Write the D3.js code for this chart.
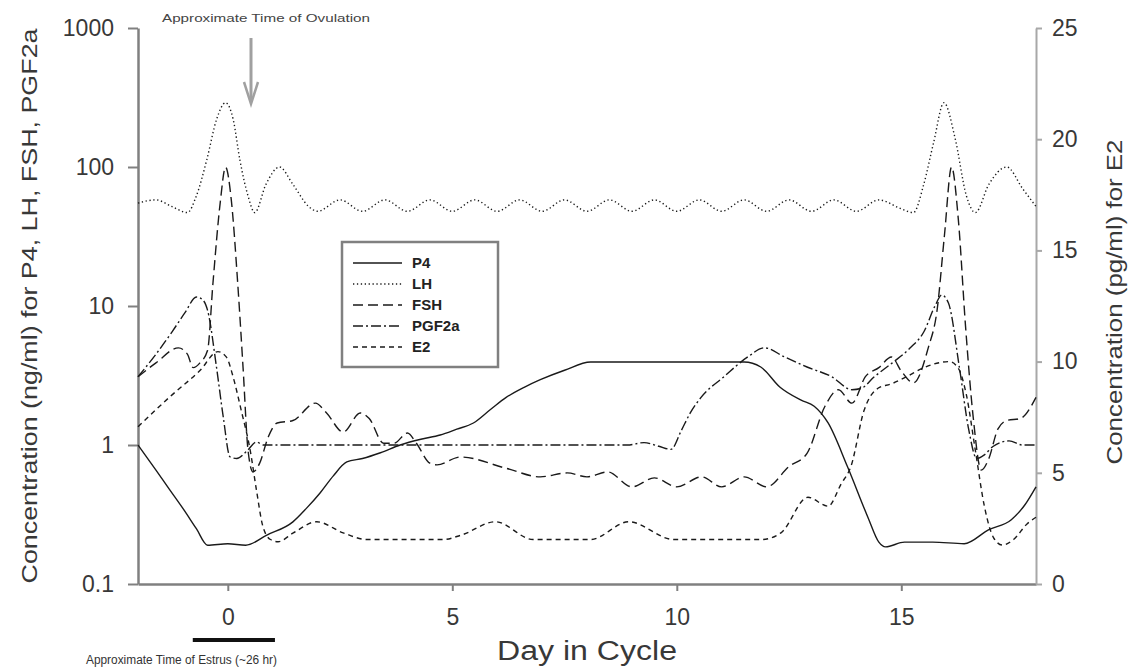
<!DOCTYPE html>
<html>
<head>
<meta charset="utf-8">
<script src="https://cdn.jsdelivr.net/npm/d3@7"></script>
<style>
  body { margin: 0; background: #fff; }
  svg { display: block; font-family: "Liberation Sans", Arial, sans-serif; }
</style>
</head>
<body>
<script>
// data: [day, value]
var p4 = [[-2,1.0],[-1.6,0.66],[-1.3,0.48],[-1.0,0.35],[-0.7,0.25],[-0.45,0.19],[0,0.195],[0.4,0.19],
  [0.87,0.225],[1.45,0.28],[1.75,0.35],[2.05,0.45],[2.35,0.6],[2.65,0.755],[3.0,0.8],[3.4,0.88],
  [3.84,1.0],[4.3,1.1],[4.73,1.18],[5.1,1.3],[5.47,1.44],[5.85,1.8],[6.2,2.2],[6.6,2.6],[6.96,2.95],
  [7.5,3.45],[8.08,3.95],[9,3.95],[10,3.95],[11,3.95],[11.5,3.95],[11.87,3.64],[12.3,2.6],[12.77,2.1],
  [13.06,1.9],[13.37,1.44],[13.8,0.7],[14.26,0.3],[14.5,0.2],[14.65,0.185],[15.07,0.2],[15.7,0.2],
  [16.4,0.195],[16.94,0.245],[17.45,0.29],[17.75,0.37],[18,0.5]];

var lh = [[-2,55],[-1.6,58],[-1.25,52],[-0.9,47],[-0.7,62],[-0.47,112],[-0.25,220],[-0.05,290],
  [0.12,220],[0.27,112],[0.45,62],[0.6,47],[0.85,75],[1.15,100],[1.45,75],[1.8,52],[2.0,48],
  [2.5,58],[3,48],[3.5,58],[4,48],[4.5,58],[5,48],[5.5,58],[6,48],[6.5,58],[7,48],[7.5,58],[8,48],
  [8.5,58],[9,48],[9.5,58],[10,48],[10.5,58],[11,48],[11.5,58],[12,48],[12.5,58],[13,48],[13.5,58],
  [14,48],[14.5,58],[15.0,50],[15.27,47],[15.5,75],[15.72,150],[15.95,290],[16.2,160],[16.45,62],
  [16.65,47],[16.95,75],[17.35,100],[17.7,70],[18,52]];

var fsh = [[-2,3.1],[-1.6,3.9],[-1.1,5.0],[-0.9,4.5],[-0.77,3.6],[-0.62,3.9],[-0.45,4.8],[-0.33,14.7],
  [-0.17,55],[-0.05,100],[0.08,57],[0.22,14.7],[0.34,3.6],[0.45,0.92],[0.56,0.64],[0.71,0.74],
  [0.9,1.14],[1.1,1.44],[1.45,1.5],[1.95,2.0],[2.2,1.7],[2.57,1.24],[2.95,1.7],[3.15,1.55],
  [3.47,1.03],[3.7,1.03],[4.0,1.22],[4.2,1.03],[4.5,0.74],[4.66,0.72],[5.18,0.82],[6.2,0.68],
  [6.96,0.59],[7.56,0.63],[8.0,0.59],[8.46,0.64],[9.0,0.5],[9.5,0.58],[10.0,0.5],[10.55,0.59],
  [11.0,0.5],[11.5,0.59],[12.0,0.5],[12.5,0.7],[12.9,0.87],[13.3,1.9],[13.6,2.5],[13.9,2.0],
  [14.2,3.1],[14.5,3.6],[14.78,4.3],[15.0,3.4],[15.27,2.8],[15.6,5.0],[15.8,9.5],[15.96,32],
  [16.12,100],[16.27,42],[16.43,7.2],[16.6,1.6],[16.78,0.66],[16.95,0.8],[17.15,1.3],[17.35,1.5],
  [17.65,1.55],[18,2.2]];

var pgf2a = [[-2,3.1],[-1.6,4.5],[-1.23,6.6],[-0.95,9.0],[-0.7,11.6],[-0.55,11.0],[-0.45,9.3],
  [-0.25,3.6],[-0.1,1.58],[0.05,0.82],[0.2,0.8],[0.42,0.9],[0.64,1.05],[0.8,1.0],[1.5,1.0],[3,1.0],
  [5,1.0],[7,1.0],[8.9,1.0],[9.27,1.04],[9.6,0.98],[9.87,0.93],[10.1,1.27],[10.3,1.7],[10.54,2.2],
  [11.05,3.1],[11.58,4.3],[11.95,5.0],[12.4,4.3],[12.9,3.64],[13.45,3.1],[13.9,2.5],[14.1,2.55],
  [14.4,3.1],[14.8,3.9],[15.2,5.0],[15.5,6.5],[15.75,10],[15.9,12],[16.05,10.5],[16.3,3.5],
  [16.5,1.3],[16.68,0.8],[16.85,0.85],[17.05,0.98],[17.4,1.07],[17.7,1.0],[18,1.0]];

var e2 = [[-2,7.07],[-1.3,8.4],[-0.62,9.6],[-0.22,10.45],[-0.03,10.2],[0.12,9.3],[0.3,7.8],[0.5,6.0],
  [0.64,4.2],[0.78,2.6],[0.95,2.0],[1.12,1.9],[1.46,2.3],[1.98,2.8],[2.57,2.3],[3.1,2.0],[4.8,2.0],
  [5.2,2.2],[5.96,2.8],[6.8,2.0],[8.08,2.0],[8.93,2.8],[9.93,2.0],[11.88,2.0],[12.32,2.3],
  [12.92,3.9],[13.37,3.5],[13.66,4.5],[13.88,5.3],[14.17,7.8],[14.48,8.8],[14.78,9.0],[15.1,9.3],
  [15.47,9.7],[16.07,10.0],[16.27,9.7],[16.45,8.5],[16.65,6.0],[16.85,3.5],[17.05,2.1],
  [17.25,1.75],[17.5,2.0],[17.8,2.7],[18,3.0]];

var seriesNames = ["P4", "LH", "FSH", "PGF2a", "E2"];
var dayTicks = [0, 5, 10, 15];
var leftTicks = [0.1, 1, 10, 100, 1000];
var leftTickLabels = ["0.1", "1", "10", "100", "1000"];
var rightTicks = [0, 5, 10, 15, 20, 25];

var width = 1133, height = 668;
var svg = d3.select("body").append("svg").attr("width", width).attr("height", height);

// scales
var x = d3.scaleLinear().domain([-2, 18]).range([138, 1036]);
var yL = d3.scaleLog().domain([0.1, 1000]).range([584, 28]);
var yR = d3.scaleLinear().domain([0, 25]).range([584, 28]);

// axes
var gx = svg.append("g").attr("transform", "translate(0,584)")
  .call(d3.axisBottom(x).tickValues(dayTicks).tickSize(7).tickSizeOuter(0).tickPadding(18));
var gl = svg.append("g").attr("transform", "translate(138,0)")
  .call(d3.axisLeft(yL).tickValues(leftTicks).tickSize(10).tickSizeOuter(0).tickPadding(14)
    .tickFormat(function(d, i){ return leftTickLabels[i]; }));
var gr = svg.append("g").attr("transform", "translate(1036,0)")
  .call(d3.axisRight(yR).tickValues(rightTicks).tickSize(6).tickSizeOuter(0).tickPadding(10));

[gx, gl, gr].forEach(function(g){
  g.select(".domain").attr("stroke", "#808080").attr("stroke-width", 2.5);
  g.selectAll(".tick line").attr("stroke", "#808080").attr("stroke-width", 2);
  g.selectAll(".tick text").attr("fill", "#383838").style("font-size", "23px");
});
gr.select(".domain").attr("stroke", "#a8a8a8").attr("stroke-width", 2);
gr.selectAll(".tick line").attr("stroke", "#a8a8a8");

// lines
var styles = {
  P4:    { dash: null,        axis: "L" },
  LH:    { dash: "1.3,2.6",   axis: "L" },
  FSH:   { dash: "10,5",      axis: "L" },
  PGF2a: { dash: "10,3,2,3",  axis: "L" },
  E2:    { dash: "5,4",       axis: "R" }
};
var allData = { P4: p4, LH: lh, FSH: fsh, PGF2a: pgf2a, E2: e2 };

seriesNames.forEach(function(name){
  var s = styles[name];
  var yy = s.axis == "L" ? yL : yR;
  var line = d3.line()
    .x(function(d){ return x(d[0]); })
    .y(function(d){ return yy(d[1]); })
    .curve(d3.curveMonotoneX);
  svg.append("path")
    .datum(allData[name])
    .attr("d", line)
    .attr("fill", "none")
    .attr("stroke", "#1a1a1a")
    .attr("stroke-width", 1.4)
    .attr("stroke-dasharray", s.dash);
});

// legend
var legend = svg.append("g");
legend.append("rect").attr("x", 342).attr("y", 242).attr("width", 156).attr("height", 125)
  .attr("fill", "#fff").attr("stroke", "#808080").attr("stroke-width", 2.5);
seriesNames.forEach(function(name, i){
  var yy = 263 + i * 21;
  legend.append("line").attr("x1", 353).attr("x2", 402).attr("y1", yy).attr("y2", yy)
    .attr("stroke", "#1a1a1a").attr("stroke-width", 1.4)
    .attr("stroke-dasharray", styles[name].dash);
  legend.append("text").attr("x", 412).attr("y", yy + 5).text(name)
    .style("font-size", "15px").style("font-weight", "bold").attr("fill", "#222");
});

// axis titles
svg.append("text").attr("transform", "translate(37,306) rotate(-90)")
  .attr("text-anchor", "middle").attr("fill", "#383838").style("font-size", "22px")
  .attr("textLength", 555).attr("lengthAdjust", "spacingAndGlyphs")
  .text("Concentration (ng/ml) for P4, LH, FSH, PGF2a");
svg.append("text").attr("transform", "translate(1122,302) rotate(-90)")
  .attr("text-anchor", "middle").attr("fill", "#383838").style("font-size", "22px")
  .attr("textLength", 325).attr("lengthAdjust", "spacingAndGlyphs")
  .text("Concentration (pg/ml) for E2");
svg.append("text").attr("x", 587).attr("y", 660)
  .attr("text-anchor", "middle").attr("fill", "#383838").style("font-size", "27px")
  .attr("textLength", 180).attr("lengthAdjust", "spacingAndGlyphs")
  .text("Day in Cycle");

// ovulation annotation
svg.append("text").attr("x", 162).attr("y", 22).attr("fill", "#444").style("font-size", "11px")
  .attr("textLength", 208).attr("lengthAdjust", "spacingAndGlyphs")
  .text("Approximate Time of Ovulation");
svg.append("line").attr("x1", 251).attr("x2", 251).attr("y1", 38).attr("y2", 100)
  .attr("stroke", "#a0a0a0").attr("stroke-width", 3);
svg.append("path").attr("d", "M244,82 L251,104 L258,82")
  .attr("fill", "none").attr("stroke", "#a0a0a0").attr("stroke-width", 2.5);

// estrus annotation
svg.append("rect").attr("x", x(-0.78)).attr("y", 638).attr("width", x(1.05) - x(-0.78)).attr("height", 4)
  .attr("fill", "#111");
svg.append("text").attr("x", 86).attr("y", 664).attr("fill", "#333").style("font-size", "12.5px")
  .attr("textLength", 191).attr("lengthAdjust", "spacingAndGlyphs")
  .text("Approximate Time of Estrus (~26 hr)");
</script>
</body>
</html>
